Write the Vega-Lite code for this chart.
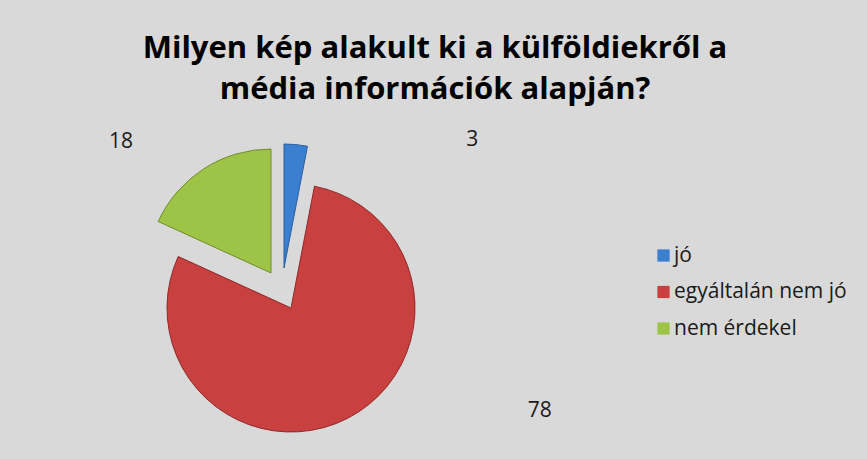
{
  "$schema": "https://vega.github.io/schema/vega-lite/v6.json",
  "autosize": {"type": "none"},
  "width": 400,
  "height": 300,
  "padding": {"left": 82, "top": 140, "right": 385, "bottom": 19},
  "background": "#d9d9d9",
  "config": {"view": {"stroke": null}},
  "title": {
    "text": ["Milyen kép alakult ki a külföldiekről a", "média információk alapján?"],
    "font": "Open Sans",
    "fontSize": 31,
    "fontWeight": "bold",
    "color": "#000000",
    "anchor": "middle",
    "frame": "group",
    "dx": 153,
    "offset": 2,
    "lineHeight": 41
  },
  "data": {
    "values": [
      {"cat": "jó", "value": 3},
      {"cat": "egyáltalán nem jó", "value": 78},
      {"cat": "nem érdekel", "value": 18}
    ]
  },
  "layer": [
    {
      "transform": [
        {"stack": "value", "groupby": [], "as": ["v0", "v1"]},
        {"filter": "datum.cat === 'jó'"}
      ],
      "mark": {"type": "arc", "outerRadius": 124, "xOffset": 2, "yOffset": -22, "stroke": "#2a5f9e", "strokeWidth": 1},
      "encoding": {
        "theta": {"field": "v0", "type": "quantitative", "scale": {"domain": [0, 99]}},
        "theta2": {"field": "v1"},
        "color": {
          "field": "cat", "type": "nominal",
          "scale": {"domain": ["jó", "egyáltalán nem jó", "nem érdekel"], "range": ["#3a7fd0", "#c8403f", "#9dc446"]},
          "legend": {
            "orient": "none", "legendX": 571, "legendY": 105, "title": null,
            "symbolType": "square", "symbolSize": 150, "symbolStrokeWidth": 0,
            "labelFont": "Open Sans", "labelFontSize": 21, "labelColor": "#1a1a1a",
            "labelLimit": 400, "rowPadding": 14.5, "labelOffset": 0
          }
        }
      }
    },
    {
      "transform": [
        {"stack": "value", "groupby": [], "as": ["v0", "v1"]},
        {"filter": "datum.cat === 'egyáltalán nem jó'"}
      ],
      "mark": {"type": "arc", "outerRadius": 124, "xOffset": 9, "yOffset": 18, "stroke": "#8e2a29", "strokeWidth": 1},
      "encoding": {
        "theta": {"field": "v0", "type": "quantitative", "scale": {"domain": [0, 99]}},
        "theta2": {"field": "v1"},
        "color": {"field": "cat", "type": "nominal"}
      }
    },
    {
      "transform": [
        {"stack": "value", "groupby": [], "as": ["v0", "v1"]},
        {"filter": "datum.cat === 'nem érdekel'"}
      ],
      "mark": {"type": "arc", "outerRadius": 124, "xOffset": -11, "yOffset": -17, "stroke": "#6f8d2c", "strokeWidth": 1},
      "encoding": {
        "theta": {"field": "v0", "type": "quantitative", "scale": {"domain": [0, 99]}},
        "theta2": {"field": "v1"},
        "color": {"field": "cat", "type": "nominal"}
      }
    },
    {
      "transform": [{"stack": "value", "groupby": [], "as": ["v0", "v1"]}],
      "mark": {"type": "text", "radius": 150, "dx": 176, "dy": -1, "font": "Open Sans", "fontSize": 21, "color": "#1a1a1a"},
      "encoding": {
        "theta": {"field": "value", "type": "quantitative", "stack": true},
        "order": {"field": "v0", "type": "quantitative"},
        "text": {"condition": {"test": "datum.cat === 'jó'", "field": "value", "type": "quantitative"}, "value": ""}
      }
    },
    {
      "transform": [{"stack": "value", "groupby": [], "as": ["v0", "v1"]}],
      "mark": {"type": "text", "radius": 150, "dx": 189, "dy": -12, "font": "Open Sans", "fontSize": 21, "color": "#1a1a1a"},
      "encoding": {
        "theta": {"field": "value", "type": "quantitative", "stack": true},
        "order": {"field": "v0", "type": "quantitative"},
        "text": {"condition": {"test": "datum.cat === 'egyáltalán nem jó'", "field": "value", "type": "quantitative"}, "value": ""}
      }
    },
    {
      "transform": [{"stack": "value", "groupby": [], "as": ["v0", "v1"]}],
      "mark": {"type": "text", "radius": 150, "dx": -80, "dy": -22, "font": "Open Sans", "fontSize": 21, "color": "#1a1a1a"},
      "encoding": {
        "theta": {"field": "value", "type": "quantitative", "stack": true},
        "order": {"field": "v0", "type": "quantitative"},
        "text": {"condition": {"test": "datum.cat === 'nem érdekel'", "field": "value", "type": "quantitative"}, "value": ""}
      }
    }
  ]
}
